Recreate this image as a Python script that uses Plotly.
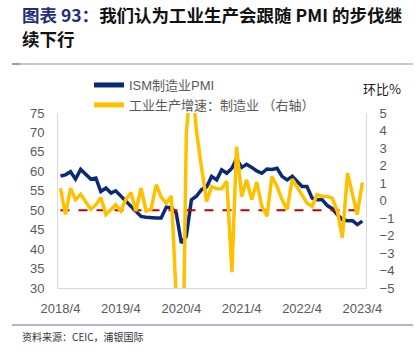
import pandas as pd
import plotly.graph_objects as go

# ---- data ----
months = pd.date_range("2018-04-01", periods=61, freq="MS")
ism_pmi = [58.8, 59.1, 59.9, 58.0, 60.5, 59.1, 58.0, 58.3, 54.8, 55.7, 54.4, 55.0,
           53.6, 52.3, 51.0, 49.7, 48.4, 48.2, 48.0, 48.0, 48.0, 50.8, 50.6, 49.3,
           41.6, 43.3, 52.7, 53.6, 55.3, 56.0, 58.7, 57.8, 60.4, 59.5, 60.8, 63.2,
           61.0, 61.8, 61.0, 60.1, 59.5, 60.6, 60.5, 60.8, 58.7, 57.8, 58.7, 57.4,
           56.1, 56.1, 53.1, 52.7, 52.7, 51.2, 50.4, 48.8, 47.6, 47.3, 47.3, 46.3, 47.2]
ip_mfg_mom = [0.7, -0.8, 0.7, 0.05, 0.35, -0.1, -0.5, -0.25, 0.15, -0.8, -0.5, -0.25,
              -0.6, 0.05, 0.45, -0.6, 0.7, -0.6, -0.5, 0.9, 0.2, -0.15, 0.25, -5.5,
              -15.5, 3.8, 7.3, 4.0, 1.9, -0.05, 0.8, 0.67, 0.67, 1.1, -4.1, 3.07,
              0.23, 1.18, 0.05, 1.05, -0.33, -0.9, 1.37, 0.8, 0.05, -0.52, 1.22, 0.8,
              0.33, -0.14, -0.33, 0.33, 0.23, 0.23, 0.14, -0.62, -2.13, 1.56, 0.33, -0.8, 1.03]
threshold = [50] * len(months)
tick_dates = ["2018-04-01", "2019-04-01", "2020-04-01", "2021-04-01", "2022-04-01", "2023-04-01"]
tick_labels = ["2018/4", "2019/4", "2020/4", "2021/4", "2022/4", "2023/4"]
series_names = ["ISM制造业PMI", "工业生产增速：制造业 （右轴）"]

W, H = 415, 355
L, R, T, B = 58, 366, 113, 288


def px(x):
    return (x - L) / (R - L)


def py(y):
    return (B - y) / (B - T)


fig = go.Figure()
fig.add_trace(go.Scatter(x=months, y=ism_pmi, name=series_names[0], mode="lines",
                         line=dict(color="#0A2A78", width=3.5), yaxis="y"))
fig.add_trace(go.Scatter(x=months, y=threshold, mode="lines", showlegend=False,
                         line=dict(color="#C00000", width=2, dash="dash"), yaxis="y",
                         hoverinfo="skip"))
fig.add_trace(go.Scatter(x=months, y=ip_mfg_mom, name=series_names[1], mode="lines",
                         line=dict(color="#FFC000", width=3.5), yaxis="y2"))

tickfont = dict(family="Liberation Sans, Noto Sans CJK SC", size=13, color="#595959")

fig.update_layout(
    width=W, height=H,
    margin=dict(l=L, r=W - R, t=T, b=H - B, pad=0, autoexpand=False),
    paper_bgcolor="white", plot_bgcolor="white",
    showlegend=True,
    legend=dict(x=px(89), y=py(70), xanchor="left", yanchor="top",
                font=dict(family="Liberation Sans, Noto Sans CJK SC", size=13, color="#595959"),
                bgcolor="rgba(0,0,0,0)", borderwidth=0, tracegroupgap=0,
                itemsizing="constant"),
    xaxis=dict(type="date", range=["2018-03-17", "2023-04-23"],
               tickvals=tick_dates, ticktext=tick_labels, tickfont=tickfont,
               showgrid=False, zeroline=False, showline=True, linecolor="#D9D9D9",
               linewidth=1, ticks="", ticklabelstandoff=8),
    yaxis=dict(range=[30, 75], dtick=5, tickfont=tickfont, showgrid=False,
               zeroline=False, showline=True, linecolor="#D9D9D9", linewidth=1,
               ticks="", ticklabelstandoff=10),
    yaxis2=dict(range=[-5, 5], dtick=1, overlaying="y", side="right", tickfont=tickfont,
                showgrid=False, zeroline=False, showline=True, linecolor="#D9D9D9",
                linewidth=1, ticks="", ticklabelstandoff=10),
    annotations=[
        dict(xref="paper", yref="paper", x=px(20), y=py(15), xanchor="left", yanchor="middle",
             align="left", showarrow=False,
             text="<b><span style='color:#1F2D7B'>图表 93：</span>我们认为工业生产会跟随 PMI 的步伐继</b>",
             font=dict(family="Noto Sans CJK SC", size=17.5, color="#111111")),
        dict(xref="paper", yref="paper", x=px(20), y=py(38), xanchor="left", yanchor="middle",
             align="left", showarrow=False, text="<b>续下行</b>",
             font=dict(family="Noto Sans CJK SC", size=17.5, color="#111111")),
        dict(xref="paper", yref="paper", x=px(361), y=py(89), xanchor="left", yanchor="middle",
             showarrow=False, text="环比%",
             font=dict(family="Noto Sans CJK SC", size=13, color="#222222")),
        dict(xref="paper", yref="paper", x=px(20), y=py(336), xanchor="left", yanchor="middle",
             showarrow=False, text="资料来源：CEIC，浦银国际",
             font=dict(family="Noto Sans CJK SC", size=10, color="#333333")),
    ],
    shapes=[
        dict(type="line", xref="paper", yref="paper", x0=px(12), x1=px(413), y0=py(64), y1=py(64),
             line=dict(color="#B4B4CF", width=1.5)),
        dict(type="line", xref="paper", yref="paper", x0=px(12), x1=px(20), y0=py(64), y1=py(64),
             line=dict(color="#8A8AB0", width=1.5)),
        dict(type="line", xref="paper", yref="paper", x0=px(12), x1=px(413), y0=py(325), y1=py(325),
             line=dict(color="#B4B4CF", width=2)),
    ],
)

fig.write_html("out.html", config={"displayModeBar": False},
               post_script="document.body.style.margin='0';document.body.style.overflow='hidden';")
